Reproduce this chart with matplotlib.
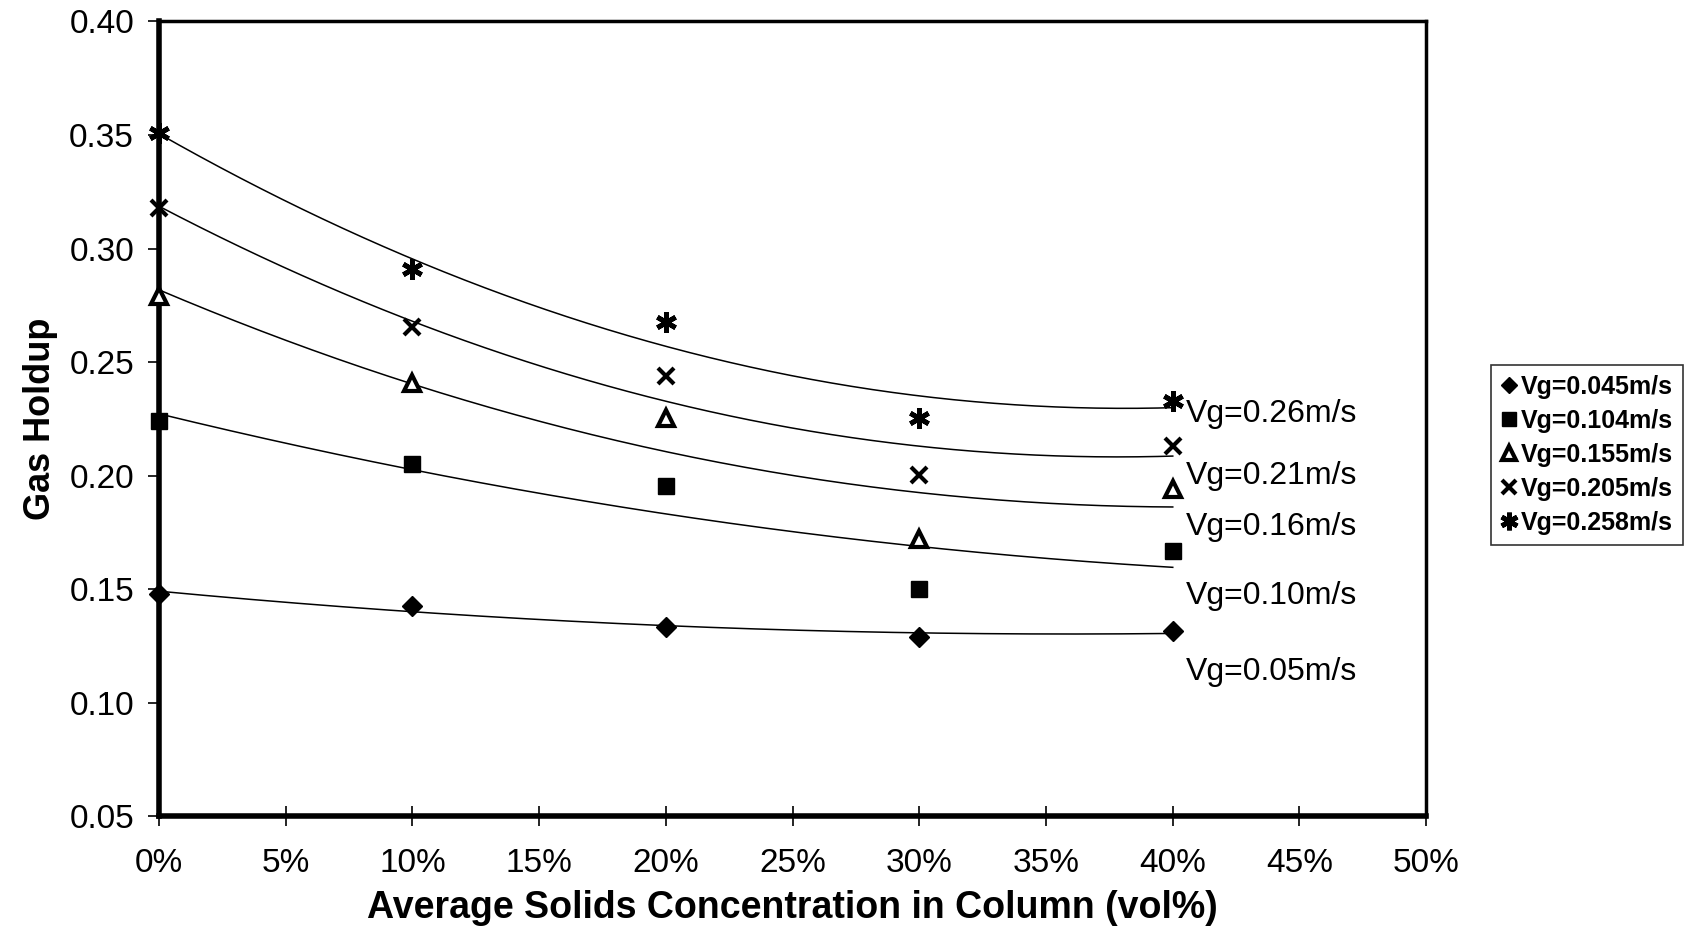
import numpy as np
import matplotlib.pyplot as plt
from matplotlib.ticker import FuncFormatter

plt.rcParams['font.family'] = ['Liberation Sans', 'DejaVu Sans']

# solids concentration (%)
conc = [0, 10, 20, 30, 40]

# gas holdup per superficial gas velocity
vg045 = [0.148, 0.1425, 0.1335, 0.129, 0.1315]
vg104 = [0.224, 0.205, 0.1955, 0.150, 0.167]
vg155 = [0.279, 0.241, 0.2255, 0.172, 0.194]
vg205 = [0.318, 0.2655, 0.244, 0.2005, 0.213]
vg258 = [0.351, 0.291, 0.2675, 0.2255, 0.233]

legend_labels = ['Vg=0.045m/s', 'Vg=0.104m/s', 'Vg=0.155m/s', 'Vg=0.205m/s', 'Vg=0.258m/s']
curve_labels = ['Vg=0.05m/s', 'Vg=0.10m/s', 'Vg=0.16m/s', 'Vg=0.21m/s', 'Vg=0.26m/s']
curve_label_y = [0.1137, 0.147, 0.1774, 0.200, 0.227]

series = [vg045, vg104, vg155, vg205, vg258]

fig = plt.figure(figsize=(16.85, 9.34), dpi=100)
ax = fig.add_axes([0.0944, 0.126, 0.752, 0.851])

markers = [
    dict(marker='D', ms=10, mfc='black', mec='black'),
    dict(marker='s', ms=12, mfc='black', mec='black'),
    dict(marker='^', ms=12, mfc='white', mec='black', mew=3),
    dict(marker='x', ms=12, mfc='black', mec='black', mew=3),
    dict(marker=(6, 2, 0), ms=15, mfc='black', mec='black', mew=3.5),
]

xs = np.linspace(0, 40, 200)
for vals, st, lab in zip(series, markers, legend_labels):
    # second order trendline, like the spreadsheet one
    coef = np.polyfit(conc, vals, 2)
    ax.plot(xs, np.polyval(coef, xs), color='black', lw=1.1)
    ax.plot(conc, vals, ls='none', label=lab, clip_on=False, zorder=5, **st)

for lab, yy in zip(curve_labels, curve_label_y):
    ax.text(40.5, yy, lab, fontsize=23, va='center', ha='left')

ax.set_xlim(0, 50)
ax.set_ylim(0.05, 0.40)
ax.set_xticks(np.arange(0, 51, 5))
ax.set_yticks(np.arange(0.05, 0.401, 0.05))
ax.xaxis.set_major_formatter(FuncFormatter(lambda v, p: '%d%%' % round(v)))
ax.yaxis.set_major_formatter(FuncFormatter(lambda v, p: '%.2f' % v))
ax.tick_params(axis='x', direction='inout', length=14, width=1.2, labelsize=24, pad=16)
ax.tick_params(axis='y', direction='out', length=8, width=1.2, labelsize=24, pad=10)

for s in ax.spines.values():
    s.set_linewidth(2.5)
ax.spines['left'].set_linewidth(4)
ax.spines['bottom'].set_linewidth(4)

ax.set_xlabel('Average Solids Concentration in Column (vol%)', fontsize=27,
              fontweight='bold', labelpad=8)
ax.set_ylabel('Gas Holdup', fontsize=26, fontweight='bold', labelpad=8)

leg = fig.legend(loc='upper left', bbox_to_anchor=(0.8775, 0.623),
                 prop={'weight': 'bold', 'size': 18}, frameon=True, fancybox=False,
                 handlelength=0.6, handletextpad=0.2, borderpad=0.4,
                 labelspacing=0.4, markerscale=0.85)
leg.get_frame().set_edgecolor('black')
leg.get_frame().set_linewidth(1.2)

fig.savefig('out.png', dpi=100)
plt.close()
